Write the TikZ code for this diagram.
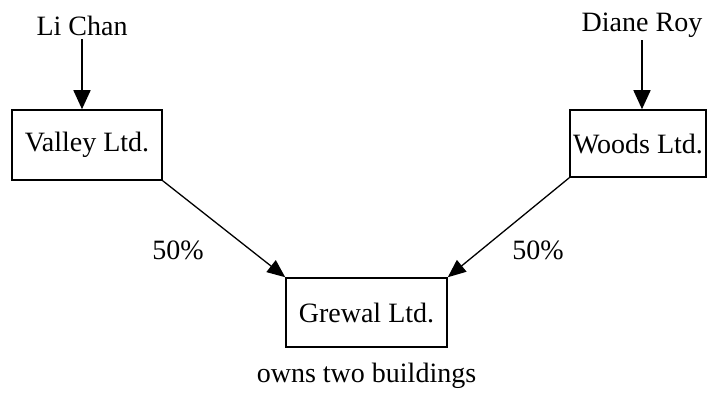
\documentclass[tikz,border=0pt]{standalone}
\usepackage{fontspec}
\setmainfont{Liberation Serif}
\usetikzlibrary{arrows.meta}
\begin{document}
\begin{tikzpicture}[x=1pt,y=-1pt,
  every node/.style={font=\fontsize{28}{33}\selectfont},
  firm/.style={draw,line width=1.6pt,inner sep=0pt,anchor=center},
  lbl/.style={inner sep=1pt},
  own/.style={line width=1.6pt,-{Triangle[length=19pt,width=17pt]}},
  stake/.style={line width=1.3pt,-{Triangle[length=18pt,width=15pt]}}]
\useasboundingbox (0,0) rectangle (707,392);
\node[firm,minimum width=150pt,minimum height=70pt] (valley) at (87,145) {Valley Ltd.};
\node[firm,minimum width=136pt,minimum height=67pt] (woods) at (638,143.5) {Woods Ltd.};
\node[firm,minimum width=161pt,minimum height=69pt] (grewal) at (366.5,312.5) {Grewal Ltd.};
\node[lbl,inner sep=3pt] (lichan) at (82,26) {Li Chan};
\node[lbl,inner sep=3pt] (diane) at (642,25) {Diane Roy};
\node[lbl] (l50) at (178,250) {50\%};
\node[lbl] (r50) at (538,250) {50\%};
\node[lbl] (note) at (366.5,376) {owns two buildings};
\draw[own] (lichan.south) -- (lichan.south |- valley.north);
\draw[own] (diane.south) -- (diane.south |- woods.north);
\draw[stake] (valley.south east) -- (grewal.north west);
\draw[stake] (woods.south west) -- (grewal.north east);
\end{tikzpicture}
\end{document}
